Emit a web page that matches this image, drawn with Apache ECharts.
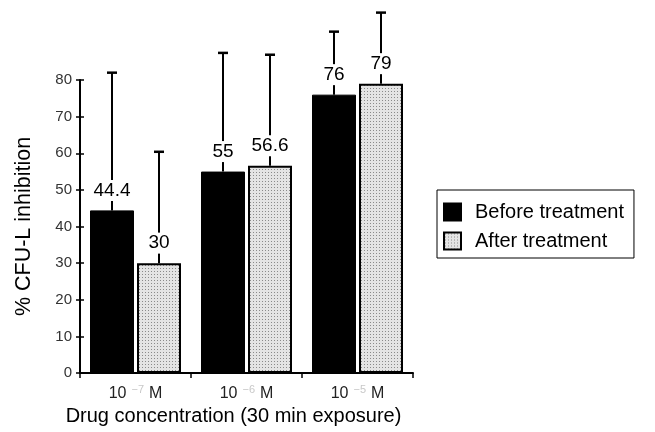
<!DOCTYPE html>
<html>
<head>
<meta charset="utf-8">
<script src="https://cdn.jsdelivr.net/npm/echarts@6/dist/echarts.min.js"></script>
<style>html,body{margin:0;padding:0;background:#fff;}#c{width:655px;height:432px;}</style>
</head>
<body>
<div id="c"></div>
<script>
// ---- data ----
var categories = ['10{s|−7}M', '10{s|−6}M', '10{s|−5}M'];
var seriesNames = ['Before treatment', 'After treatment'];
var beforeValues = [44.4, 55, 76];
var afterValues = [30, 56.6, 79];
var beforeErr = [37.6, 32.4, 17.2];
var afterErr = [30.4, 30.3, 19.4];
var beforeLabels = ['44.4', '55', '76'];
var afterLabels = ['30', '56.6', '79'];
var yTicks = [0, 10, 20, 30, 40, 50, 60, 70, 80];

// ---- style ----
var BAR_W = 44, GAP = 3;
var FONT = 'Liberation Sans, Arial, Helvetica, sans-serif';

function stipple() {
  var c = document.createElement('canvas');
  c.width = 3; c.height = 3;
  var g = c.getContext('2d');
  g.fillStyle = '#e4e4e4'; g.fillRect(0, 0, 3, 3);
  g.fillStyle = '#8a8a8a'; g.fillRect(1, 1, 1, 1);
  return c;
}
var pattern = { image: stipple(), repeat: 'repeat' };

var chart = echarts.init(document.getElementById('c'), null, { renderer: 'canvas' });

function errData(vals, errs, labels) {
  return vals.map(function (v, i) { return [i, v, errs[i], labels[i]]; });
}

function makeErr(side) {
  return function (params, api) {
    var i = api.value(0), v = api.value(1), e = api.value(2);
    var base = api.coord([i, v]);
    var top = api.coord([i, v + e]);
    var x = base[0] + side * (BAR_W + GAP) / 2;
    var lbl = side < 0 ? beforeLabels[i] : afterLabels[i];
    return {
      type: 'group',
      children: [
        { type: 'line', shape: { x1: x, y1: base[1], x2: x, y2: top[1] }, style: { stroke: '#000', lineWidth: 2 } },
        { type: 'line', shape: { x1: x - 5, y1: top[1], x2: x + 5, y2: top[1] }, style: { stroke: '#000', lineWidth: 2.5 } },
        { type: 'text', x: x, y: base[1] - 20, style: {
            text: lbl, fill: '#000', font: '19px ' + FONT, align: 'center', verticalAlign: 'middle',
            backgroundColor: '#fff', padding: [1, 2, 1, 2] } }
      ]
    };
  };
}

var option = {
  animation: false,
  backgroundColor: '#fff',
  grid: { left: 80, right: 242, top: 80, bottom: 59 },
  legend: {
    orient: 'vertical', left: 437, top: 190, icon: 'rect',
    padding: [12, 10, 7, 6], itemGap: 9, itemWidth: 17, itemHeight: 17,
    borderColor: '#000', borderWidth: 1,
    data: seriesNames,
    textStyle: { fontSize: 20, color: '#000', fontFamily: FONT, padding: [0, 0, 0, 9] }
  },
  xAxis: {
    type: 'category', data: categories,
    axisLine: { lineStyle: { color: '#000', width: 2 } },
    axisTick: { show: true, length: 5, lineStyle: { color: '#000', width: 1.5 } },
    axisLabel: {
      margin: 11, color: '#222', fontSize: 16, fontFamily: FONT,
      rich: { s: { fontSize: 11, color: '#c8c8c8', verticalAlign: 'top', padding: [0, 5, 8, 5] } }
    },
    name: 'Drug concentration (30 min exposure)', nameLocation: 'middle', nameGap: 30,
    nameTextStyle: { fontSize: 20, color: '#000', fontFamily: FONT, padding: [0, 26, 0, 0] }
  },
  yAxis: [{
    type: 'value', min: 0, max: 80, interval: 10,
    splitLine: { show: false },
    axisLine: { show: true, lineStyle: { color: '#000', width: 2 } },
    axisTick: { show: true, length: 4, lineStyle: { color: '#000', width: 1.5 } },
    axisLabel: { margin: 8, color: '#333', fontSize: 15, fontFamily: FONT,
      formatter: function (v) { return yTicks.indexOf(v) >= 0 ? String(v) : ''; } },
    name: '% CFU-L inhibition', nameLocation: 'middle', nameGap: 45, nameRotate: 90,
    nameTextStyle: { fontSize: 21.5, color: '#000', fontFamily: FONT }
  }, {
    type: 'value', min: 0, max: 80, interval: 10, position: 'left', offset: 0,
    splitLine: { show: false }, axisLabel: { show: false },
    axisLine: { show: false },
    axisTick: { show: true, inside: true, length: 4, lineStyle: { color: '#000', width: 1.5 } }
  }],
  series: [
    { name: seriesNames[0], type: 'bar', data: beforeValues, barWidth: BAR_W, barGap: (GAP / BAR_W * 100) + '%',
      itemStyle: { color: '#000', borderColor: '#000', borderWidth: 1 } },
    { name: seriesNames[1], type: 'bar', data: afterValues, barWidth: BAR_W,
      itemStyle: { color: pattern, borderColor: '#000', borderWidth: 2 } },
    { type: 'custom', data: errData(beforeValues, beforeErr, beforeLabels), renderItem: makeErr(-1), clip: false, z: 5, silent: true },
    { type: 'custom', data: errData(afterValues, afterErr, afterLabels), renderItem: makeErr(1), clip: false, z: 5, silent: true }
  ]
};
chart.setOption(option);
</script>
</body>
</html>
